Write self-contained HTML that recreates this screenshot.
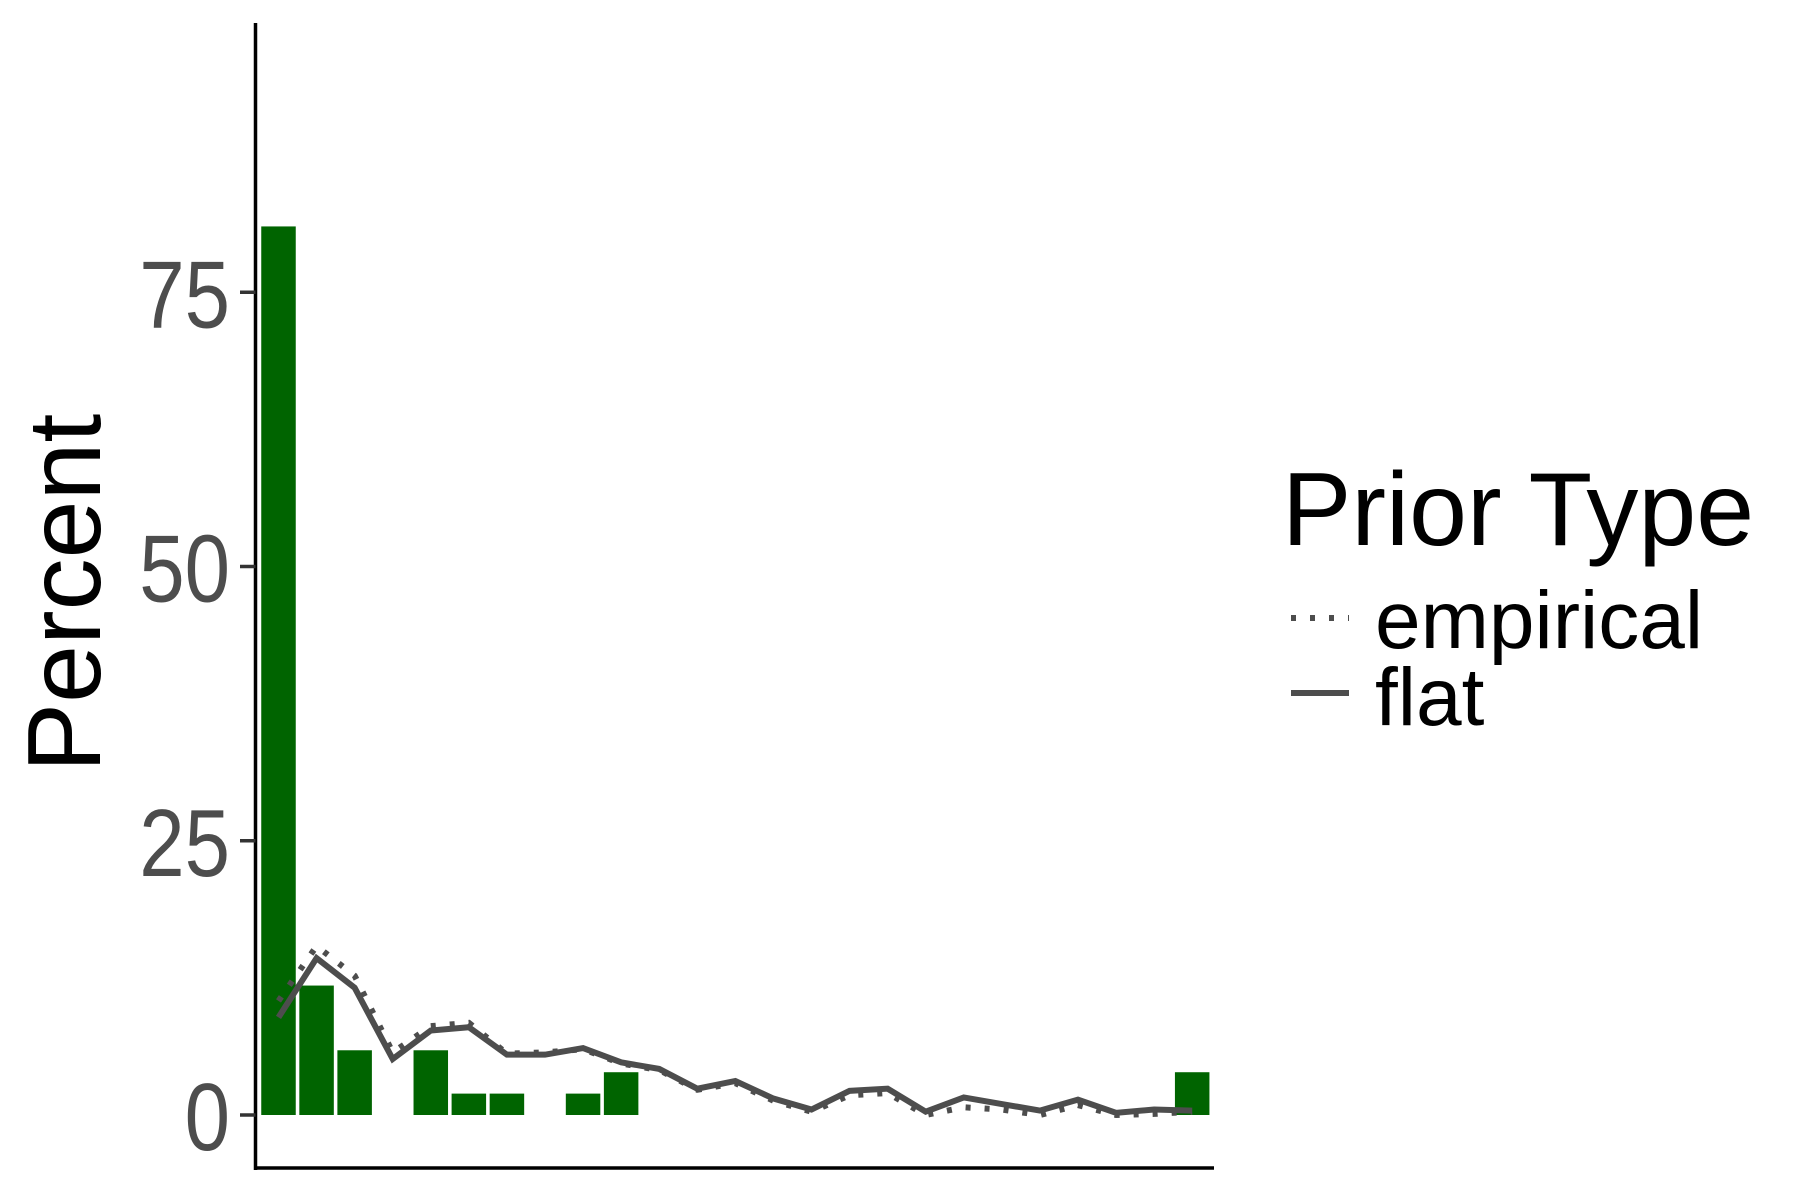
<!DOCTYPE html>
<html><head><meta charset="utf-8"><style>
html,body{margin:0;padding:0;background:#fff;}
svg{display:block;font-family:"Liberation Sans",sans-serif;}
</style></head><body>
<svg id="chart" width="1800" height="1200" viewBox="0 0 1800 1200" xmlns="http://www.w3.org/2000/svg">
<g id="bars"></g>
<g id="lines"></g>
<g id="axes"></g>
<text transform="translate(100,593) rotate(-90)" text-anchor="middle" font-size="104" fill="#000">Percent</text>
<g>
<text x="1282" y="545" font-size="104" fill="#000">Prior Type</text>
<line x1="1291" y1="618" x2="1349" y2="618" stroke="#4d4d4d" stroke-width="6" stroke-dasharray="5 14"/>
<text x="1375" y="648" font-size="82" fill="#000">empirical</text>
<line x1="1291" y1="693" x2="1349" y2="693" stroke="#4d4d4d" stroke-width="6"/>
<text x="1375" y="725" font-size="82" fill="#000">flat</text>
</g>
</svg>
<script>
const barValues=[81,11.8,5.9,0,5.9,1.95,1.95,0,1.95,3.9,0,0,0,0,0,0,0,0,0,0,0,0,0,0,3.9];
const flatValues=[8.9,14.3,11.6,5.1,7.7,8.0,5.5,5.5,6.1,4.8,4.2,2.4,3.1,1.5,0.5,2.2,2.4,0.3,1.6,1.0,0.4,1.4,0.2,0.5,0.4];
const empiricalValues=[10.4,15.4,12.7,5.7,8.1,8.4,5.6,5.7,6.0,4.7,4.1,2.3,2.9,1.3,0.3,1.8,2.0,0,0.7,0.5,0,0.9,0,0.1,0.3];
const yTicks=[0,25,50,75];
const NS="http://www.w3.org/2000/svg";
const y=v=>1115-v*10.97;
const x=i=>278.5+i*38.07;
const bw=34.5;
const bars=document.getElementById('bars');
barValues.forEach((v,i)=>{
  if(v<=0)return;
  const r=document.createElementNS(NS,'rect');
  
  
  r.setAttribute('x',x(i)-bw/2);r.setAttribute('y',y(v));
  r.setAttribute('width',bw);r.setAttribute('height',y(0)-y(v));
  r.setAttribute('fill','#006400');
  bars.appendChild(r);
});
const lines=document.getElementById('lines');
function addLine(vals,name,dash){
  const p=document.createElementNS(NS,'polyline');
  
  
  p.setAttribute('points',vals.map((v,i)=>x(i)+','+y(v)).join(' '));
  p.setAttribute('fill','none');p.setAttribute('stroke','#4d4d4d');
  p.setAttribute('stroke-width','6');
  if(dash)p.setAttribute('stroke-dasharray',dash);
  lines.appendChild(p);
}
addLine(empiricalValues,'empirical-line','5 14');
addLine(flatValues,'flat-line',null);
const axes=document.getElementById('axes');
function el(tag,attrs,name){const e=document.createElementNS(NS,tag);for(const k in attrs)e.setAttribute(k,attrs[k]);axes.appendChild(e);return e;}
el('line',{x1:255.5,y1:23,x2:255.5,y2:1170,stroke:'#000','stroke-width':3.5},'y-axis-line');
el('line',{x1:254,y1:1168,x2:1214,y2:1168,stroke:'#000','stroke-width':3.5},'x-axis-line');
yTicks.forEach(t=>{
  const tk=document.createElementNS(NS,'line');
  
  
  tk.setAttribute('x1',240);tk.setAttribute('x2',255.5);tk.setAttribute('y1',y(t));tk.setAttribute('y2',y(t));
  tk.setAttribute('stroke','#333');tk.setAttribute('stroke-width',3.5);
  axes.appendChild(tk);
  const tx=document.createElementNS(NS,'text');
  
  
  tx.setAttribute('transform','translate(230,'+(y(t)+35)+') scale(0.85,1)');
  tx.setAttribute('text-anchor','end');tx.setAttribute('font-size','96');tx.setAttribute('fill','#4d4d4d');
  tx.textContent=t;
  axes.appendChild(tx);
});
</script>
</body></html>
